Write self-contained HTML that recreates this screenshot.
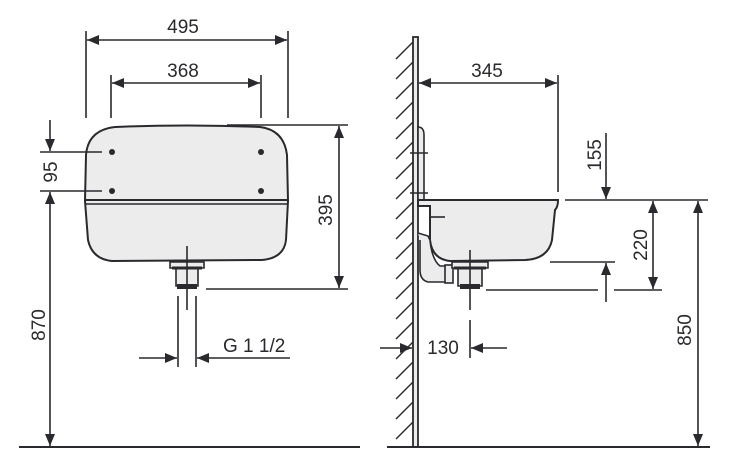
<!DOCTYPE html>
<html><head><meta charset="utf-8"><style>
html,body{margin:0;padding:0;background:#fff;}
svg{display:block;}
text{font-family:"Liberation Sans",sans-serif;font-size:19px;fill:#2a2a2e;}
</style></head><body>
<svg width="742" height="472" viewBox="0 0 742 472" xmlns="http://www.w3.org/2000/svg">
<defs>
<marker id="a" viewBox="0 0 12 10" refX="12" refY="5" markerWidth="12" markerHeight="10" markerUnits="userSpaceOnUse" orient="auto-start-reverse"><path d="M0,0L12,5L0,10Z" fill="#2a2a2e"/></marker>
</defs>
<g stroke="#2a2a2e" stroke-width="1.6" fill="none">
<line x1="86" y1="31" x2="86" y2="118"/>
<line x1="288" y1="31" x2="288" y2="118"/>
<line x1="87" y1="40" x2="287" y2="40" marker-start="url(#a)" marker-end="url(#a)"/>
<line x1="111" y1="75" x2="111" y2="118"/>
<line x1="261" y1="75" x2="261" y2="118"/>
<line x1="112" y1="83" x2="260" y2="83" marker-start="url(#a)" marker-end="url(#a)"/>
<path d="M86,155 Q88,130 115,127 Q187,124 260,127 Q284,130 287,155 L288,201 L286,240 Q284,258 262,260 L112,261 Q92,259 88,240 L85,201 Z" fill="#ececec" stroke-width="2"/>
<line x1="85" y1="200" x2="288" y2="200" stroke-width="2"/>
<line x1="85" y1="204" x2="288" y2="204"/>
<g fill="#2a2a2e" stroke="none">
<circle cx="112" cy="152" r="3"/><circle cx="261" cy="152" r="3"/>
<circle cx="112" cy="191" r="3"/><circle cx="261" cy="191" r="3"/>
</g>
<path d="M170,262 L204,262 L204,268 L198,268 L198,286 L176,286 L176,268 L170,268 Z" fill="#ececec"/>
<line x1="172" y1="268" x2="202" y2="268" stroke-width="3"/>
<rect x="177" y="284" width="20" height="5" fill="#2a2a2e" stroke="none"/>
<line x1="187" y1="246" x2="187" y2="310"/>
<line x1="40" y1="152" x2="102" y2="152"/>
<line x1="40" y1="191" x2="102" y2="191"/>
<line x1="50" y1="120" x2="50" y2="151" marker-end="url(#a)"/>
<line x1="50" y1="192" x2="50" y2="446" marker-start="url(#a)" marker-end="url(#a)"/>
<line x1="227" y1="125" x2="348" y2="125"/>
<line x1="206" y1="289" x2="348" y2="289"/>
<line x1="339" y1="126" x2="339" y2="288" marker-start="url(#a)" marker-end="url(#a)"/>
<line x1="178" y1="296" x2="178" y2="367"/>
<line x1="196" y1="296" x2="196" y2="367"/>
<line x1="139" y1="358" x2="177" y2="358" marker-end="url(#a)"/>
<line x1="290" y1="358" x2="197" y2="358" marker-end="url(#a)"/>
<line x1="19" y1="447" x2="360" y2="447" stroke-width="2"/>

<rect x="413" y="37" width="5" height="410" fill="#ececec" stroke-width="1.8"/>
<g stroke-width="1.4">
<line x1="396" y1="59" x2="413" y2="42"/>
<line x1="396" y1="79" x2="413" y2="62"/>
<line x1="396" y1="99" x2="413" y2="82"/>
<line x1="396" y1="119" x2="413" y2="102"/>
<line x1="396" y1="139" x2="413" y2="122"/>
<line x1="396" y1="159" x2="413" y2="142"/>
<line x1="396" y1="179" x2="413" y2="162"/>
<line x1="396" y1="199" x2="413" y2="182"/>
<line x1="396" y1="219" x2="413" y2="202"/>
<line x1="396" y1="239" x2="413" y2="222"/>
<line x1="396" y1="259" x2="413" y2="242"/>
<line x1="396" y1="279" x2="413" y2="262"/>
<line x1="396" y1="299" x2="413" y2="282"/>
<line x1="396" y1="319" x2="413" y2="302"/>
<line x1="396" y1="339" x2="413" y2="322"/>
<line x1="396" y1="359" x2="413" y2="342"/>
<line x1="396" y1="379" x2="413" y2="362"/>
<line x1="396" y1="399" x2="413" y2="382"/>
<line x1="396" y1="419" x2="413" y2="402"/>
<line x1="396" y1="439" x2="413" y2="422"/>
</g>
<path d="M418,200 L418,127 Q424,127 424,135 L424,200" fill="#ececec"/>
<line x1="410" y1="153" x2="428" y2="153"/>
<line x1="410" y1="193" x2="428" y2="193"/>
<path d="M418,200 L558,200 Q558,207 555,210 L552,240 Q548,259 525,260 L450,261 Q432,259 430,240 L430,206 L418,206 Z" fill="#ececec" stroke-width="2"/>
<line x1="430" y1="217" x2="445" y2="217" stroke-width="1.6"/>
<path d="M418,233 L428,236 L430,240 Q432,260 440,266 L452,266 L452,282 L428,282 Q420,280 420,270 L420,240" fill="#ececec"/>
<rect x="445" y="265" width="8" height="18" fill="#ececec"/>
<path d="M452,262 L488,262 L488,268 L482,268 L482,286 L458,286 L458,268 L452,268 Z" fill="#ececec"/>
<line x1="454" y1="268" x2="486" y2="268" stroke-width="3"/>
<rect x="460" y="284" width="20" height="5" fill="#2a2a2e" stroke="none"/>
<line x1="470" y1="250" x2="470" y2="310"/>
<line x1="558" y1="75" x2="558" y2="192"/>
<line x1="419" y1="83" x2="557" y2="83" marker-start="url(#a)" marker-end="url(#a)"/>
<line x1="606" y1="133" x2="606" y2="199" marker-end="url(#a)"/>
<line x1="565" y1="200" x2="708" y2="200"/>
<line x1="653" y1="201" x2="653" y2="289" marker-start="url(#a)" marker-end="url(#a)"/>
<line x1="486" y1="290" x2="598" y2="290"/>
<line x1="614" y1="290" x2="662" y2="290"/>
<line x1="550" y1="262" x2="615" y2="262"/>
<line x1="606" y1="302" x2="606" y2="263" marker-end="url(#a)"/>
<line x1="698" y1="201" x2="698" y2="446" marker-start="url(#a)" marker-end="url(#a)"/>
<line x1="380" y1="348" x2="412" y2="348" marker-end="url(#a)"/>
<line x1="507" y1="348" x2="471" y2="348" marker-end="url(#a)"/>
<line x1="470" y1="320" x2="470" y2="358"/>
<line x1="387" y1="447" x2="710" y2="447" stroke-width="2"/>
</g>
<text x="183" y="33" text-anchor="middle">495</text>
<text x="183" y="77" text-anchor="middle">368</text>
<text x="223" y="352">G 1 1/2</text>
<text transform="translate(57,172) rotate(-90)" text-anchor="middle">95</text>
<text transform="translate(45,325) rotate(-90)" text-anchor="middle">870</text>
<text transform="translate(332,210) rotate(-90)" text-anchor="middle">395</text>
<text x="487" y="77" text-anchor="middle">345</text>
<text transform="translate(601,155) rotate(-90)" text-anchor="middle">155</text>
<text transform="translate(647,245) rotate(-90)" text-anchor="middle">220</text>
<text transform="translate(691,330) rotate(-90)" text-anchor="middle">850</text>
<text x="443" y="354" text-anchor="middle">130</text>
</svg>
</body></html>
